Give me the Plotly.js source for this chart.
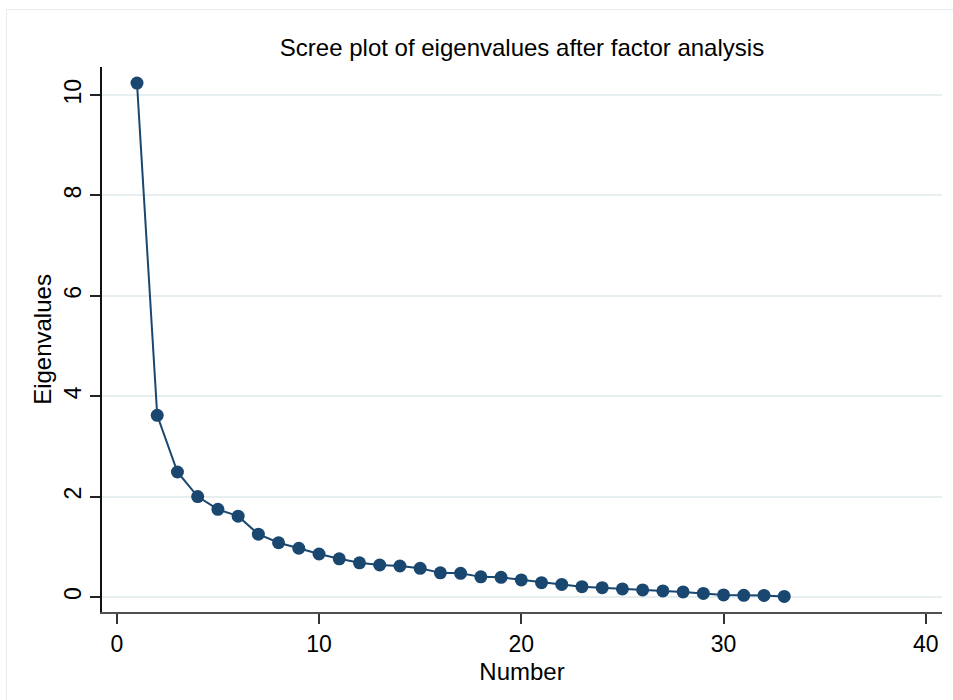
<!DOCTYPE html>
<html>
<head>
<meta charset="utf-8">
<script src="https://cdn.plot.ly/plotly-3.0.1.min.js"></script>
<style>
  html, body { margin: 0; padding: 0; background: #ffffff; }
  #wrap { position: relative; width: 953px; height: 700px; }
  #chart { position: absolute; left: 0; top: 0; width: 953px; height: 700px; }
  #frame { position: absolute; left: 6px; top: 9px; width: 960px; height: 700px; border: 1px solid #e6ecec; pointer-events: none; }
</style>
</head>
<body>
<div id="wrap">
  <div id="chart"></div>
  <div id="frame"></div>
</div>
<script>
// Data
const factorNumber = [1,2,3,4,5,6,7,8,9,10,11,12,13,14,15,16,17,18,19,20,21,22,23,24,25,26,27,28,29,30,31,32,33];
const eigenvalues = [10.24, 3.62, 2.49, 2.00, 1.745, 1.61, 1.25, 1.08, 0.97, 0.856, 0.76, 0.68, 0.637, 0.617, 0.57, 0.48, 0.47, 0.40, 0.39, 0.34, 0.285, 0.25, 0.205, 0.185, 0.16, 0.14, 0.12, 0.10, 0.07, 0.04, 0.033, 0.03, 0.01];
const xTicks = [0, 10, 20, 30, 40];
const yTicks = [0, 2, 4, 6, 8, 10];
const chartTitle = "Scree plot of eigenvalues after factor analysis";
const xTitle = "Number";
const yTitle = "Eigenvalues";

const navy = "#1a476f";
const fontFam = "'Liberation Sans', Arial, Helvetica, sans-serif";

const trace = {
  x: factorNumber,
  y: eigenvalues,
  type: "scatter",
  mode: "lines+markers",
  line: { color: navy, width: 2 },
  marker: { color: navy, size: 13 },
  hoverinfo: "x+y",
  showlegend: false
};

const layout = {
  width: 953,
  height: 700,
  paper_bgcolor: "#ffffff",
  plot_bgcolor: "#ffffff",
  margin: { l: 102, r: 11, t: 67, b: 88, pad: 0 },
  font: { family: fontFam, color: "#000000", size: 23 },
  title: {
    text: chartTitle,
    font: { family: fontFam, size: 24, color: "#000000" },
    x: 0.5, xref: "paper", xanchor: "center",
    y: 1 - 48 / 700, yref: "container", yanchor: "middle"
  },
  xaxis: {
    range: [-0.73, 40.8],
    tickmode: "array",
    tickvals: xTicks,
    ticktext: xTicks.map(String),
    ticks: "outside",
    ticklen: 10,
    tickwidth: 1.5,
    tickcolor: "#333333",
    showline: true,
    linecolor: "#505050",
    linewidth: 2,
    showgrid: false,
    zeroline: false,
    tickfont: { family: fontFam, size: 23, color: "#000000" },
    title: { text: xTitle, font: { family: fontFam, size: 24, color: "#000000" }, standoff: 8 }
  },
  yaxis: {
    range: [-0.3, 10.56],
    tickmode: "array",
    tickvals: yTicks,
    ticktext: yTicks.map(String),
    tickangle: -90,
    ticks: "outside",
    ticklen: 10,
    tickwidth: 1.5,
    tickcolor: "#222222",
    showline: true,
    linecolor: "#111111",
    linewidth: 1.5,
    showgrid: true,
    gridcolor: "#e6eef0",
    gridwidth: 2,
    zeroline: false,
    tickfont: { family: fontFam, size: 23, color: "#000000" },
    title: { text: yTitle, font: { family: fontFam, size: 24, color: "#000000" }, standoff: 2 }
  }
};

Plotly.newPlot("chart", [trace], layout, { displayModeBar: false, staticPlot: false });
</script>
</body>
</html>
